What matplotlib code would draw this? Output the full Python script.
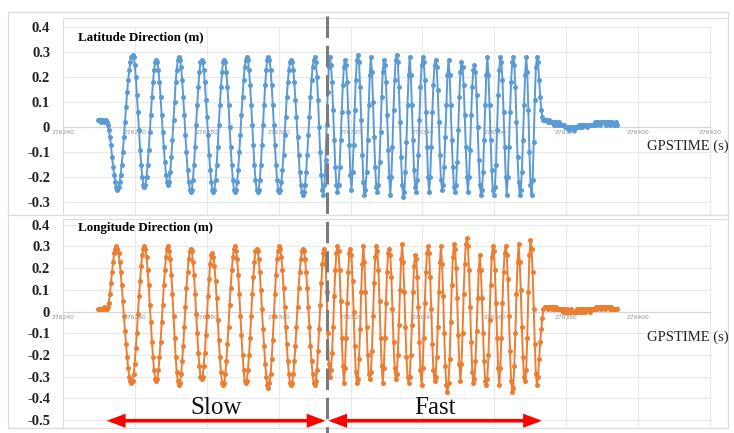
import numpy as np
import matplotlib
matplotlib.use("Agg")
import matplotlib.pyplot as plt
from matplotlib.patches import FancyArrowPatch, Rectangle
from matplotlib.lines import Line2D

# ---------------------------------------------------------------- data
# GPS time of the first epoch and sampling interval (s)
t_start = 276249.74
t_step = 0.3

# Latitude-direction offsets (cm): slow swing, fast swing, stop and rest
lat_slow_cm = [
    3, 3, 3, 2, 3, 3, 2, 3, 2,
    1, -1, -4, -7, -12, -16, -19, -22, -24, -25,
    -24, -22, -19, -15, -10, -4, 2, 8, 14, 19, 23, 26, 28, 29,
    28, 25, 20, 13, 6, -1, -9, -15, -20, -23, -24,
    -23, -20, -15, -9, -2, 5, 12, 18, 23, 26, 27,
    26, 23, 18, 12, 5, -2, -8, -14, -19, -22, -23,
    -22, -18, -12, -5, 3, 10, 18, 23, 27, 28,
    27, 24, 19, 12, 5, -3, -10, -17, -22, -25, -26,
    -25, -21, -15, -8, 1, 9, 16, 22, 26, 27,
    26, 23, 18, 11, 4, -3, -11, -17, -22, -25, -26,
    -25, -21, -15, -8, 1, 9, 16, 22, 26, 27,
    26, 22, 16, 9, 0, -8, -15, -21, -25, -26,
    -25, -22, -17, -10, -3, 5, 12, 19, 24, 27, 28,
    27, 23, 17, 9, 1, -7, -15, -21, -25, -26,
    -25, -21, -15, -7, 1, 9, 17, 23, 27, 28,
    27, 23, 17, 9, 1, -7, -15, -21, -25, -26,
    -25, -22, -17, -11, -3, 4, 12, 18, 23, 26, 27,
    26, 23, 18, 11, 4, -4, -11, -18, -23, -26, -27,
    -26, -23, -18, -11, -3, 4, 12, 19, 24, 27, 28,
]
lat_fast_cm = [
    26, 20, 11, 0, -10, -19, -25, -27,
    -23, -13, 1, 14, 24, 28,
    25, 18, 7, -5, -16, -23, -26,
    -23, -16, -5, 6, 17, 24, 27,
    25, 18, 6, -7, -19, -25,
    -18, -7, 7, 19, 27, 29,
    26, 16, 3, -11, -22, -27,
    -25, -18, -5, 9, 21, 28,
    22, 10, -4, -16, -24, -26,
    -23, -14, -2, 12, 22, 27,
    25, 18, 5, -9, -20, -27,
    -20, -8, 7, 19, 27, 29,
    26, 16, 2, -12, -23, -28,
    -26, -18, -6, 9, 21, 28,
    21, 9, -5, -17, -24, -26,
    -21, -11, 3, 16, 25, 28,
    26, 19, 6, -8, -20, -26,
    -20, -8, 6, 17, 25, 27,
    24, 15, 2, -11, -21, -25,
    -23, -16, -4, 9, 21, 27,
    21, 9, -5, -16, -24, -26,
    -23, -14, -1, 12, 22, 26,
    24, 17, 5, -8, -20, -26,
    -20, -9, 5, 16, 23, 25,
    22, 13, 0, -13, -23, -27,
    -25, -18, -5, 9, 21, 28,
    21, 9, -5, -17, -25, -27,
    -24, -15, -1, 13, 23, 28,
    26, 19, 6, -8, -20, -27,
    -20, -8, 6, 18, 26, 28,
    25, 16, 2, -12, -22, -27,
    -25, -18, -5, 9, 21, 28,
    22, 7, -10, -23, -27,
    -21, -6, 11, 24, 28,
]
lat_stop_cm = [
    26, 19, 12, 7, 4,
    3, 3, 3, 3,
    2, 3, 2, 2, 2, 2, 1, 2, 2, 1, 2, 1, 1, 1, 1,
    1, 0, 0, 0, 0, -1, 0, 0, 0, -1, 0, 0, 0, 0, 1, 0,
    1, 0, 1, 1, 1, 0, 1, 1, 1, 1, 1, 1,
    1, 2, 1, 2, 2, 1, 2, 2, 2, 2, 2, 1, 2,
    2, 2, 1, 2, 2, 1, 1, 2, 1,
]

# Longitude-direction offsets (cm)
lon_slow_cm = [
    1, 1, 1, 1, 1, 1, 2, 1, 1,
    2, 4, 8, 13, 18, 23, 27, 29, 30,
    29, 27, 23, 18, 12, 5, -2, -9, -15, -21, -26, -30, -32, -33,
    -32, -29, -24, -17, -10, -1, 7, 14, 21, 26, 29, 30,
    29, 25, 19, 12, 3, -5, -14, -21, -27, -31, -32,
    -31, -27, -21, -14, -5, 3, 12, 19, 25, 29, 30,
    28, 24, 17, 8, -2, -12, -21, -28, -32, -34,
    -33, -29, -23, -16, -7, 2, 11, 18, 24, 28, 29,
    28, 23, 17, 8, -1, -10, -19, -25, -30, -31,
    -30, -25, -19, -11, -2, 7, 15, 22, 26, 27,
    25, 21, 14, 6, -4, -13, -21, -28, -33, -34,
    -33, -29, -23, -15, -7, 3, 11, 19, 25, 29, 30,
    28, 24, 17, 8, -2, -11, -20, -27, -32, -33,
    -32, -27, -20, -12, -2, 8, 16, 23, 28, 29,
    28, 24, 18, 10, 1, -8, -16, -24, -30, -34, -35,
    -33, -29, -22, -13, -2, 8, 17, 24, 28, 30,
    29, 25, 19, 11, 2, -7, -15, -23, -29, -33, -34,
    -33, -29, -23, -16, -7, 2, 11, 18, 24, 28, 29,
    28, 24, 18, 11, 2, -7, -16, -23, -29, -33, -34,
]
lon_fast_cm = [
    -32, -27, -18, -8, 3, 13, 22, 27, 29,
    23, 9, -10, -24, -30,
    -27, -19, -7, 7, 19, 27, 30,
    28, 19, 5, -12, -25, -33,
    -26, -12, 4, 18, 27, 29,
    26, 14, 0, -16, -28, -33,
    -31, -22, -8, 9, 22, 30,
    23, 9, -7, -20, -29, -31,
    -28, -18, -2, 13, 25, 30,
    28, 19, 5, -12, -25, -33,
    -26, -12, 4, 18, 27, 29,
    26, 16, 1, -14, -26, -31,
    -29, -20, -6, 10, 24, 31,
    23, 9, -7, -21, -30, -33,
    -30, -20, -6, 9, 21, 26,
    24, 16, 2, -14, -27, -34,
    -26, -12, 4, 18, 27, 30,
    27, 16, 1, -15, -27, -32,
    -30, -21, -7, 9, 23, 30,
    22, 7, -10, -25, -34, -37,
    -33, -22, -5, 12, 25, 31,
    29, 20, 6, -11, -24, -32,
    -24, -10, 8, 22, 31, 34,
    30, 19, 2, -14, -28, -33,
    -31, -23, -9, 6, 19, 26,
    19, 6, -10, -23, -32, -34,
    -31, -20, -4, 12, 25, 30,
    28, 19, 4, -12, -26, -34,
    -26, -12, 4, 18, 27, 30,
    26, 15, -2, -18, -32, -37,
    -35, -25, -10, 8, 23, 31,
    23, 10, -7, -21, -30, -32,
    -27, -12, 9, 26, 33,
    29, 18, 1, -15, -29, -34,
]
lon_stop_cm = [
    -30, -22, -14, -8, -3,
    1, 2, 2, 2, 1, 2, 2, 2, 1, 2, 2, 1, 2, 1, 1, 1,
    1, 1, 0, 1, 0, 0, 1, 0, 0, 0, 1, 0, 0, 0, 0, 1, 0, 1, 0,
    1, 0, 1, 1, 0, 1, 1, 1, 0, 1, 1, 1,
    1, 1, 2, 1, 2, 2, 1, 2, 2, 2, 1, 2, 2, 2, 2, 1, 2, 1,
    1, 1, 1, 1,
]

# GPS time where the swing changes from slow to fast, and the two phases
switch_time = 276313.4
phase_names = ["Slow", "Fast"]
phase_start = [276252.2, 276313.8]
phase_end = [276313.0, 276373.2]

# axis ticks
time_ticks_top = [276240, 276260, 276280, 276300, 276320, 276340, 276360, 276380, 276400, 276420]
time_ticks_bot = [276240, 276260, 276280, 276300, 276320, 276340, 276360, 276380, 276400]
lat_ticks = [-0.3, -0.2, -0.1, 0.0, 0.1, 0.2, 0.3, 0.4]
lat_tick_labels = ["-0.3", "-0.2", "-0.1", "0", "0.1", "0.2", "0.3", "0.4"]
lon_ticks = [-0.5, -0.4, -0.3, -0.2, -0.1, 0.0, 0.1, 0.2, 0.3, 0.4]
lon_tick_labels = ["-0.5", "-0.4", "-0.3", "-0.2", "-0.1", "0", "0.1", "0.2", "0.3", "0.4"]

lat = np.array(lat_slow_cm + lat_fast_cm + lat_stop_cm) / 100.0
lon = np.array(lon_slow_cm + lon_fast_cm + lon_stop_cm) / 100.0
t_lat = t_start + t_step * np.arange(len(lat))
t_lon = t_start + t_step * np.arange(len(lon))

# ---------------------------------------------------------------- figure
W, H = 734, 433
fig = plt.figure(figsize=(W / 100, H / 100), dpi=100)
fig.patch.set_facecolor("white")


def fbox(x0, y0, x1, y1):
    """Pixel box (top-left origin) to figure-fraction rect."""
    return [x0 / W, 1 - y1 / H, (x1 - x0) / W, (y1 - y0) / H]


SERIF = "Liberation Serif"
GRID = "#e8e8e8"
FRAME = "#dcdcdc"
XMIN, XMAX = 276240, 276424.98

# outer light frame around both charts
fig.add_artist(Rectangle((8 / W, 1 - 428 / H), 720 / W, 416 / H,
                         transform=fig.transFigure, fill=False,
                         edgecolor=FRAME, lw=0.9))
fig.add_artist(Line2D([8 / W, 728 / W], [1 - 215 / H] * 2,
                      transform=fig.transFigure, color=FRAME, lw=0.9))

ax_top = fig.add_axes(fbox(63, 18, 728, 215))
ax_bot = fig.add_axes(fbox(63, 219, 728, 428))


def style_axis(ax, ylim, yticks, ylabels, xticks, series_t, series_v, color):
    ax.set_xlim(XMIN, XMAX)
    ax.set_ylim(*ylim)
    ax.set_facecolor("none")
    # gridlines limited to the labelled range
    ax.hlines(yticks, xticks[0], 276420, colors=GRID, lw=0.8, zorder=0)
    ax.vlines(xticks[1:] + ([276420] if xticks[-1] != 276420 else []),
              ylim[0], yticks[-1], colors=GRID, lw=0.8, zorder=0)
    ax.add_patch(Rectangle((0, 0), 1, 1, transform=ax.transAxes, fill=False,
                           edgecolor=FRAME, lw=0.8, zorder=0))
    for s in ("top", "right", "left"):
        ax.spines[s].set_visible(False)
    ax.spines["bottom"].set_position(("data", 0))
    ax.spines["bottom"].set_color("#d4d4d4")
    ax.spines["bottom"].set_linewidth(0.8)
    ax.spines["bottom"].set_bounds(XMIN, 276420)
    ax.set_xticks(xticks)
    ax.set_xticklabels([str(v) for v in xticks])
    ax.tick_params(axis="x", length=0, pad=2.2, labelsize=4.3, labelcolor="#909090")
    ax.set_yticks(yticks)
    ax.set_yticklabels(ylabels, fontfamily=SERIF, fontweight="bold",
                       fontsize=10.5, color="#222222")
    ax.tick_params(axis="y", length=0, pad=9.2)
    ax.plot(series_t, series_v, color=color, lw=1.4, marker="o", ms=3.6,
            mew=0, zorder=3)


style_axis(ax_top, (-0.352, 0.436), lat_ticks, lat_tick_labels, time_ticks_top,
           t_lat, lat, "#5b9bd5")
style_axis(ax_bot, (-0.5364, 0.4259), lon_ticks, lon_tick_labels, time_ticks_bot,
           t_lon, lon, "#ed7d31")

# panel titles and axis names
fig.text(78 / W, 1 - 37 / H, "Latitude Direction (m)", fontfamily=SERIF,
         fontweight="bold", fontsize=9.4, va="center", ha="left")
fig.text(78 / W, 1 - 228 / H, "Longitude Direction (m)", fontfamily=SERIF,
         fontweight="bold", fontsize=9.4, va="center", ha="left")
fig.text(647 / W, 1 - 146 / H, "GPSTIME (s)", fontfamily=SERIF,
         fontsize=10.5, va="center", ha="left", color="#222222")
fig.text(647 / W, 1 - 337 / H, "GPSTIME (s)", fontfamily=SERIF,
         fontsize=10.5, va="center", ha="left", color="#222222")

# slow/fast divider spanning both panels, placed through the time scale
x_disp = ax_top.transData.transform((switch_time, 0.0))[0]
x_fig = fig.transFigure.inverted().transform((x_disp, 0.0))[0]
fig.add_artist(Line2D([x_fig, x_fig], [1 - 16 / H, 0.0],
                      transform=fig.transFigure, color="#7a7a7a", lw=2.2,
                      linestyle=(0, (7, 2.6)), zorder=5))

# phase arrows with labels
arrow_y = -0.503
for name, a, b in zip(phase_names, phase_start, phase_end):
    arr = FancyArrowPatch((a, arrow_y), (b, arrow_y),
                          arrowstyle="<|-|>,head_length=0.85,head_width=0.32",
                          mutation_scale=10, color="#ff0000", lw=2.6,
                          shrinkA=0, shrinkB=0, transform=ax_bot.transData,
                          clip_on=False, zorder=6, joinstyle="miter")
    ax_bot.add_patch(arr)
    ax_bot.annotate(name, xy=((a + b) / 2, arrow_y), xytext=(0, 4.8),
                    textcoords="offset points", ha="center", va="baseline",
                    fontfamily=SERIF, fontsize=18, color="#111111",
                    annotation_clip=False)

fig.savefig("out.png", dpi=100, facecolor="white")
